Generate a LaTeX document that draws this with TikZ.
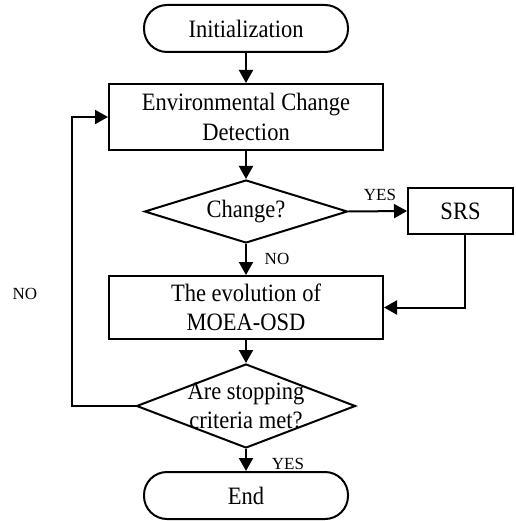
\documentclass[tikz,border=0pt]{standalone}
\usepackage{fontspec}
\setmainfont{Liberation Serif}[FakeStretch=0.9]
\newfontfamily\lblfont{Liberation Serif}
\usetikzlibrary{shapes.geometric,arrows.meta}
\begin{document}
\begin{tikzpicture}[x=1pt,y=-1pt,
  every node/.style={font=\fontsize{25}{29.5}\selectfont},
  base/.style={draw, line width=2pt, inner sep=0pt, align=center},
  term/.style={base, rounded corners=23pt, minimum width=204pt, minimum height=47pt},
  proc/.style={base, rectangle, minimum width=274pt},
  lbl/.style={font=\lblfont\fontsize{17}{20}\selectfont, inner sep=0pt},
  conn/.style={line width=2pt, -{Triangle[length=13pt,width=14pt]}}
]
\useasboundingbox (0,0) rectangle (515,521);
\node[term] (init) at (246,28.5) {Initialization};
\node[proc, minimum height=66pt] (ecd) at (246,117) {Environmental Change\\Detection};
\node[base, diamond, minimum width=203pt, minimum height=63pt] (chg) at (246,211.5) {};
\node at (chg) {Change?};
\node[base, rectangle, minimum width=105pt, minimum height=46pt] (srs) at (460.5,211) {SRS};
\node[proc, minimum height=63pt] (moea) at (246,307.5) {The evolution of\\MOEA-OSD};
\node[base, diamond, minimum width=219pt, minimum height=84pt] (stop) at (246,406) {};
\node[align=center] at (stop) {Are stopping\\criteria met?};
\node[term] (end) at (246,495.5) {End};
\coordinate (loop) at (72,406);
\coordinate (srsout) at (465,234);

\draw[conn] (init) -- (ecd);
\draw[conn] (ecd) -- (chg);
\draw[conn] (chg.east) -- (srs.west);
\draw[conn] (chg.south) -- (moea.north);
\draw[conn] (srsout) |- (moea.east);
\draw[conn] (moea.south) -- (stop.north);
\draw[conn] (stop.west) -- (loop) |- (ecd.west);
\draw[conn] (stop.south) -- (end.north);

\node[lbl] (yes1) at (380,195) {YES};
\node[lbl] (no1) at (277,259) {NO};
\node[lbl] (yes2) at (288,464) {YES};
\node[lbl] (no2) at (25,294) {NO};
\end{tikzpicture}
\end{document}
